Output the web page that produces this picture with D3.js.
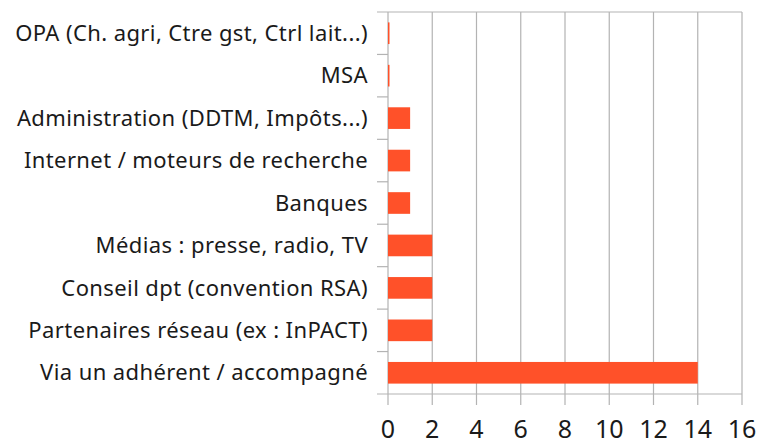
<!DOCTYPE html>
<html>
<head>
<meta charset="utf-8">
<script src="https://cdn.jsdelivr.net/npm/d3@7"></script>
<style>
  body { margin: 0; background: #fff; }
  svg text { font-family: "Noto Sans", sans-serif; fill: #1a1a1a; }
</style>
</head>
<body>
<div id="vis"></div>
<script>
// Frame constants
const FRAME_WIDTH = 758;
const FRAME_HEIGHT = 441;
const MARGINS = {left: 388, right: 16, top: 12, bottom: 47};

// Data
const categories = [
  "OPA (Ch. agri, Ctre gst, Ctrl lait...)",
  "MSA",
  "Administration (DDTM, Impôts...)",
  "Internet / moteurs de recherche",
  "Banques",
  "Médias : presse, radio, TV",
  "Conseil dpt (convention RSA)",
  "Partenaires réseau (ex : InPACT)",
  "Via un adhérent / accompagné"
];
const values = [0, 0, 1, 1, 1, 2, 2, 2, 14];
const xTicks = [0, 2, 4, 6, 8, 10, 12, 14, 16];

const VIS_WIDTH = FRAME_WIDTH - MARGINS.left - MARGINS.right;
const VIS_HEIGHT = FRAME_HEIGHT - MARGINS.top - MARGINS.bottom;

const FRAME = d3.select("#vis")
  .append("svg")
    .attr("width", FRAME_WIDTH)
    .attr("height", FRAME_HEIGHT);

const X_SCALE = d3.scaleLinear()
  .domain([0, 16])
  .range([0, VIS_WIDTH]);

const Y_SCALE = d3.scaleBand()
  .domain(categories)
  .range([0, VIS_HEIGHT])
  .paddingInner(0.49)
  .paddingOuter(0.245);

const G = FRAME.append("g")
  .attr("transform", "translate(" + MARGINS.left + "," + MARGINS.top + ")");

// vertical gridlines
G.selectAll(".grid")
  .data(xTicks)
  .enter()
  .append("line")
    .attr("x1", d => X_SCALE(d))
    .attr("x2", d => X_SCALE(d))
    .attr("y1", 0)
    .attr("y2", VIS_HEIGHT + 11)
    .attr("stroke", "#b3b3b3")
    .attr("stroke-width", 1.2);

// category separators (band boundaries incl. top and bottom)
const step = Y_SCALE.step();
const bounds = d3.range(categories.length + 1).map(i => i * step);
G.selectAll(".sep")
  .data(bounds)
  .enter()
  .append("line")
    .attr("x1", -11)
    .attr("x2", (d, i) => (i === 0 || i === categories.length) ? X_SCALE(16) : 0)
    .attr("y1", d => d)
    .attr("y2", d => d)
    .attr("stroke", "#b3b3b3")
    .attr("stroke-width", 1.2);

// bars
G.selectAll(".bar")
  .data(values)
  .enter()
  .append("rect")
    .attr("x", X_SCALE(0))
    .attr("y", (d, i) => Y_SCALE(categories[i]))
    .attr("width", d => Math.max(X_SCALE(d) - X_SCALE(0), 1.5))
    .attr("height", Y_SCALE.bandwidth())
    .attr("fill", "#ff5129");

// category labels
G.selectAll(".cat")
  .data(categories)
  .enter()
  .append("text")
    .attr("x", -20)
    .attr("y", d => Y_SCALE(d) + Y_SCALE.bandwidth() / 2)
    .attr("dy", "0.35em")
    .attr("text-anchor", "end")
    .attr("font-size", "22px")
    .attr("letter-spacing", "0.4px")
    .text(d => d);

// x tick labels
G.selectAll(".xt")
  .data(xTicks)
  .enter()
  .append("text")
    .attr("x", d => X_SCALE(d))
    .attr("y", VIS_HEIGHT + 35)
    .attr("dy", "0.35em")
    .attr("text-anchor", "middle")
    .attr("font-size", "25px")
    .text(d => d);
</script>
</body>
</html>
